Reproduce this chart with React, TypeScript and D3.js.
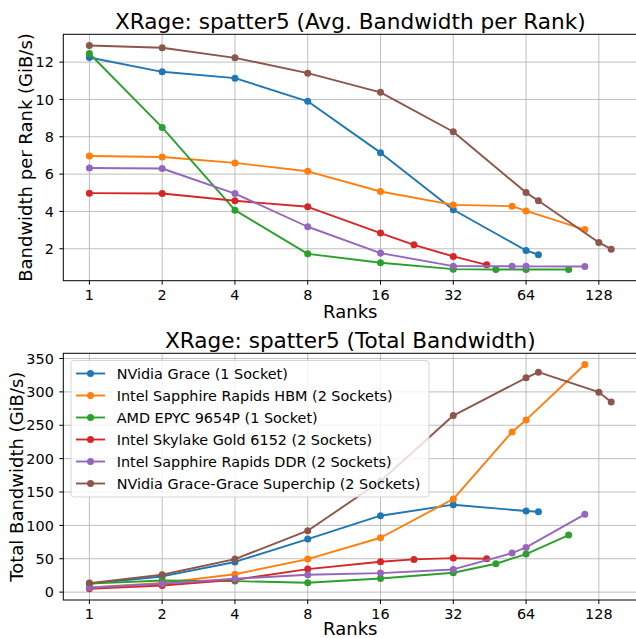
import React from "react";
import * as d3 from "d3";

const seriesNames = [
  "NVidia Grace (1 Socket)",
  "Intel Sapphire Rapids HBM (2 Sockets)",
  "AMD EPYC 9654P (1 Socket)",
  "Intel Skylake Gold 6152 (2 Sockets)",
  "Intel Sapphire Rapids DDR (2 Sockets)",
  "NVidia Grace-Grace Superchip (2 Sockets)",
];
const seriesColors = ["#1f77b4", "#ff7f0e", "#2ca02c", "#d62728", "#9467bd", "#8c564b"];

const ranksGrace = [1, 2, 4, 8, 16, 32, 64, 72];
const perRankGrace = [12.25, 11.48, 11.14, 9.9, 7.15, 4.09, 1.91, 1.68];
const totalGrace = [12.3, 23.5, 45.2, 79.5, 114.5, 131, 121.5, 120.5];

const ranksHBM = [1, 2, 4, 8, 16, 32, 56, 64, 112];
const perRankHBM = [6.97, 6.92, 6.6, 6.15, 5.07, 4.35, 4.28, 4.03, 3.03];
const totalHBM = [7, 13.8, 26.8, 49.5, 81.5, 139.5, 240, 258, 341];

const ranksAMD = [1, 2, 4, 8, 16, 32, 48, 64, 96];
const perRankAMD = [12.46, 8.5, 4.07, 1.73, 1.25, 0.91, 0.89, 0.89, 0.89];
const totalAMD = [12.8, 17.5, 16.5, 14, 20.5, 29, 42.5, 57, 85.5];

const ranksSkylake = [1, 2, 4, 8, 16, 22, 32, 44];
const perRankSkylake = [4.98, 4.96, 4.57, 4.25, 2.84, 2.21, 1.59, 1.14];
const totalSkylake = [5, 10, 18.5, 34.5, 45.5, 49, 51, 50];

const ranksDDR = [1, 2, 4, 8, 16, 32, 56, 64, 112];
const perRankDDR = [6.33, 6.3, 4.96, 3.18, 1.77, 1.07, 1.06, 1.06, 1.05];
const totalDDR = [6.5, 12.6, 20, 26, 28.5, 34, 58.5, 67, 116.5];

const ranksGG = [1, 2, 4, 8, 16, 32, 64, 72, 128, 144];
const perRankGG = [12.89, 12.77, 12.23, 11.41, 10.38, 8.27, 5.01, 4.57, 2.34, 1.98];
const totalGG = [13.5, 26, 49.5, 92, 166, 264.5, 321, 329.5, 299.5, 285];

const xTicks = [1, 2, 4, 8, 16, 32, 64, 128];
const yTicksTop = [2, 4, 6, 8, 10, 12];
const yTicksBottom = [0, 50, 100, 150, 200, 250, 300, 350];

const titleTop = "XRage: spatter5 (Avg. Bandwidth per Rank)";
const titleBottom = "XRage: spatter5 (Total Bandwidth)";
const xLabel = "Ranks";
const yLabelTop = "Bandwidth per Rank (GiB/s)";
const yLabelBottom = "Total Bandwidth (GiB/s)";

const allRanks = [ranksGrace, ranksHBM, ranksAMD, ranksSkylake, ranksDDR, ranksGG];
const allPerRank = [perRankGrace, perRankHBM, perRankAMD, perRankSkylake, perRankDDR, perRankGG];
const allTotal = [totalGrace, totalHBM, totalAMD, totalSkylake, totalDDR, totalGG];

const FONT = "DejaVu Sans, sans-serif";
const LEFT = 63.3;
const RIGHT = 637.3;
const TICK_FS = 14.4;
const LABEL_FS = 18;
const TITLE_FS = 21.6;
const LW = 1.9;
const MR = 3.5;

function paddedDomain(vals: number[]): [number, number] {
  const mn = d3.min(vals) as number;
  const mx = d3.max(vals) as number;
  const m = (mx - mn) * 0.05;
  return [mn - m, mx + m];
}

const flatRanks = allRanks.flat();
const lx = paddedDomain(flatRanks.map((r) => Math.log2(r)));
const xScale = d3
  .scaleLog()
  .base(2)
  .domain([Math.pow(2, lx[0]), Math.pow(2, lx[1])])
  .range([LEFT, RIGHT]);

type PanelProps = {
  top: number;
  bottom: number;
  values: number[][];
  yTicks: number[];
  title: string;
  titleY: number;
  yLabel: string;
  yLabelX: number;
  xLabelY: number;
  legend?: boolean;
};

function Panel(p: PanelProps) {
  const yScale = d3.scaleLinear().domain(paddedDomain(p.values.flat())).range([p.bottom, p.top]);
  const line = d3
    .line<[number, number]>()
    .x((d) => xScale(d[0]))
    .y((d) => yScale(d[1]));
  const cx = (LEFT + RIGHT) / 2;
  const cy = (p.top + p.bottom) / 2;
  const clipId = `clip-${Math.round(p.top)}`;
  return (
    <g>
      <defs>
        <clipPath id={clipId}>
          <rect x={LEFT} y={p.top} width={RIGHT - LEFT} height={p.bottom - p.top} />
        </clipPath>
      </defs>
      {xTicks.map((t) => (
        <line key={"gx" + t} x1={xScale(t)} x2={xScale(t)} y1={p.top} y2={p.bottom} stroke="#b0b0b0" strokeWidth={1} opacity={0.8} />
      ))}
      {p.yTicks.map((t) => (
        <line key={"gy" + t} x1={LEFT} x2={RIGHT} y1={yScale(t)} y2={yScale(t)} stroke="#b0b0b0" strokeWidth={1} opacity={0.8} />
      ))}
      <g clipPath={`url(#${clipId})`}>
        {allRanks.map((ranks, i) => {
          const pts = ranks.map((r, j) => [r, p.values[i][j]] as [number, number]);
          return (
            <g key={"s" + i}>
              <path d={line(pts) || ""} fill="none" stroke={seriesColors[i]} strokeWidth={LW} strokeLinejoin="round" strokeLinecap="round" />
              {pts.map((d, j) => (
                <circle key={j} cx={xScale(d[0])} cy={yScale(d[1])} r={MR} fill={seriesColors[i]} />
              ))}
            </g>
          );
        })}
      </g>
      <rect x={LEFT} y={p.top} width={RIGHT - LEFT} height={p.bottom - p.top} fill="none" stroke="#000" strokeWidth={1} />
      {xTicks.map((t) => (
        <g key={"xt" + t}>
          <line x1={xScale(t)} x2={xScale(t)} y1={p.bottom} y2={p.bottom + 4} stroke="#000" strokeWidth={1} />
          <text x={xScale(t)} y={p.bottom + 18.8} textAnchor="middle" fontSize={TICK_FS} fontFamily={FONT} fill="#000">
            {String(t)}
          </text>
        </g>
      ))}
      {p.yTicks.map((t) => (
        <g key={"yt" + t}>
          <line x1={LEFT - 4} x2={LEFT} y1={yScale(t)} y2={yScale(t)} stroke="#000" strokeWidth={1} />
          <text x={LEFT - 9.5} y={yScale(t)} dy="0.36em" textAnchor="end" fontSize={TICK_FS} fontFamily={FONT} fill="#000">
            {String(t)}
          </text>
        </g>
      ))}
      <text x={cx} y={p.titleY} textAnchor="middle" fontSize={TITLE_FS} fontFamily={FONT} fill="#000">
        {p.title}
      </text>
      <text x={cx} y={p.xLabelY} textAnchor="middle" fontSize={LABEL_FS} fontFamily={FONT} fill="#000">
        {xLabel}
      </text>
      <text transform={`translate(${p.yLabelX},${cy}) rotate(-90)`} textAnchor="middle" fontSize={LABEL_FS} fontFamily={FONT} fill="#000">
        {p.yLabel}
      </text>
      {p.legend && (
        <g>
          <rect x={71} y={360.5} width={358} height={136.5} rx={3} fill="#fff" fillOpacity={0.8} stroke="#cccccc" strokeOpacity={0.8} strokeWidth={1} />
          {seriesNames.map((n, i) => {
            const ry = 373.5 + i * 22;
            return (
              <g key={"lg" + i}>
                <line x1={76} x2={105} y1={ry} y2={ry} stroke={seriesColors[i]} strokeWidth={LW} />
                <circle cx={90.5} cy={ry} r={MR} fill={seriesColors[i]} />
                <text x={116.7} y={ry} dy="0.36em" fontSize={TICK_FS} fontFamily={FONT} fill="#000">
                  {n}
                </text>
              </g>
            );
          })}
        </g>
      )}
    </g>
  );
}

export default function App() {
  return (
    <svg width={636} height={638} style={{ position: "absolute", left: 0, top: 0, background: "#fff" }}>
      <rect x={0} y={0} width={636} height={638} fill="#fff" />
      <Panel
        top={34.3}
        bottom={280.7}
        values={allPerRank}
        yTicks={yTicksTop}
        title={titleTop}
        titleY={29.3}
        yLabel={yLabelTop}
        yLabelX={32}
        xLabelY={318}
      />
      <Panel
        top={353.3}
        bottom={600}
        values={allTotal}
        yTicks={yTicksBottom}
        title={titleBottom}
        titleY={348.3}
        yLabel={yLabelBottom}
        yLabelX={22.5}
        xLabelY={634.5}
        legend
      />
    </svg>
  );
}
